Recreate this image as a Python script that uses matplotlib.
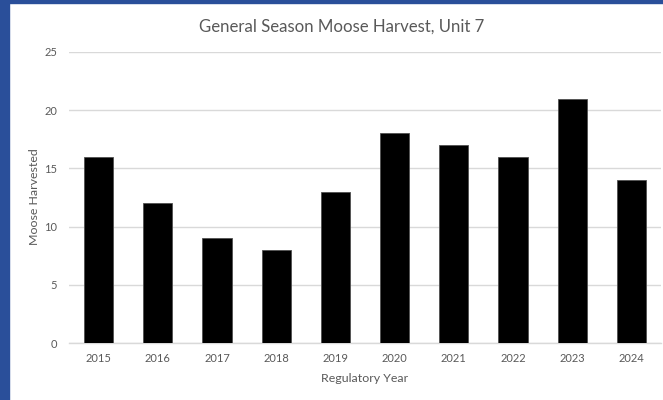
import matplotlib
matplotlib.use("Agg")
import matplotlib.pyplot as plt
from matplotlib.patches import Rectangle

years = ["2015", "2016", "2017", "2018", "2019", "2020", "2021", "2022", "2023", "2024"]
harvest = [16, 12, 9, 8, 13, 18, 17, 16, 21, 14]
yticks = [0, 5, 10, 15, 20, 25]

plt.rcParams['font.family'] = ['Lato', 'DejaVu Sans']
txt = '#595959'

fig = plt.figure(figsize=(6.63, 4.0), dpi=100)
W, H = 663, 400
ax = fig.add_axes([69 / W, 1 - 343 / H, (661 - 69) / W, (343 - 52) / H])

x = range(len(years))
ax.bar(x, harvest, width=0.49, color='black', edgecolor='#505050', linewidth=0.6, zorder=3)
ax.set_xlim(-0.5, len(years) - 0.5)
ax.set_ylim(0, 25)
ax.set_yticks(yticks)
ax.set_xticks(list(x))
ax.set_xticklabels(years)
ax.yaxis.grid(True, color='#D9D9D9', linewidth=1.0, zorder=0)
for s in ['top', 'right', 'left']:
    ax.spines[s].set_visible(False)
ax.spines['bottom'].set_color('#D9D9D9')
ax.spines['bottom'].set_linewidth(1.0)
ax.tick_params(axis='both', length=0, colors=txt, labelsize=8)
ax.tick_params(axis='y', pad=8.6)
ax.tick_params(axis='x', pad=7)

fig.text(342 / W, 1 - 26.5 / H, "General Season Moose Harvest, Unit 7", ha='center', va='center',
         color=txt, fontsize=12.1)
fig.text(34 / W, 1 - 197 / H, "Moose Harvested", rotation=90, ha='center', va='center',
         color=txt, fontsize=8.9)
fig.text(365 / W, 1 - 379 / H, "Regulatory Year", ha='center', va='center',
         color=txt, fontsize=8.9)

# blue frame on left and top
blue = '#2A4F9A'
fig.patches.append(Rectangle((0, 0), 9 / W, 1, transform=fig.transFigure, color=blue, zorder=10))
fig.patches.append(Rectangle((0, 1 - 3 / H), 1, 3 / H, transform=fig.transFigure, color=blue, zorder=10))

fig.savefig("out.png", dpi=100, facecolor='white')
